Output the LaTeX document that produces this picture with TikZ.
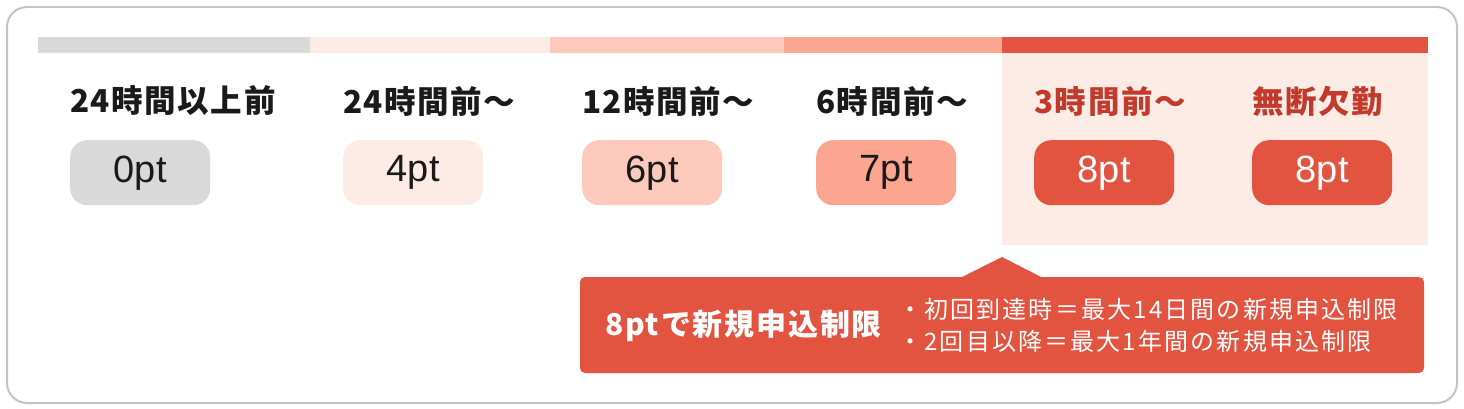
\documentclass[tikz,border=0pt]{standalone}
\usepackage{fontspec}
\setmainfont{Noto Sans CJK JP}
\newfontfamily\headfont{Noto Sans CJK JP}[LetterSpace=5]
\newfontfamily\calloutfont{Noto Sans CJK JP}[LetterSpace=6]
\newfontfamily\bulletfont{Noto Sans CJK JP}[LetterSpace=9]
\newfontfamily\pillfont{Liberation Sans}
\definecolor{cgray}{HTML}{D9D9D9}
\definecolor{cpale}{HTML}{FDECE6}
\definecolor{clight}{HTML}{FDC9BC}
\definecolor{cmid}{HTML}{FCA590}
\definecolor{cred}{HTML}{E35440}
\definecolor{cdark}{HTML}{C13A2B}
\definecolor{ctext}{HTML}{1A1A1A}
\definecolor{cframe}{HTML}{C4C4C4}
\tikzset{
  head/.style={anchor=west, inner sep=0pt, font=\headfont\bfseries\fontsize{31.5}{34}\selectfont, text=ctext},
  pill/.style={anchor=north west, minimum width=140pt, minimum height=65pt, rounded corners=17pt, inner sep=0pt, font=\pillfont\fontsize{38}{42}\selectfont, text=ctext},
}
\begin{document}
\begin{tikzpicture}[x=1pt,y=-1pt]
\useasboundingbox (0,0) rectangle (1464,409);
% frame
\draw[cframe, line width=2pt, rounded corners=20pt] (7,7) rectangle (1457,403);
% highlighted background
\fill[cpale] (1002,53) rectangle (1428,245);
% top bar
\fill[cgray]  (38,37) rectangle (310,53);
\fill[cpale]  (310,37) rectangle (550,53);
\fill[clight] (550,37) rectangle (784,53);
\fill[cmid]   (784,37) rectangle (1002,53);
\fill[cred]   (1002,37) rectangle (1428,53);
% headers
\node[head] (h1) at (70,101) {24時間以上前};
\node[head] (h2) at (343,101) {24時間前〜};
\node[head] (h3) at (582,101) {12時間前〜};
\node[head] (h4) at (816,101) {6時間前〜};
\node[head, text=cdark] (h5) at (1034,101) {3時間前〜};
\node[head, text=cdark] (h6) at (1252,101) {無断欠勤};
% pills
\node[pill, fill=cgray]  (p1) at (70,140) {0pt};
\node[pill, fill=cpale]  (p2) at (343,140) {4pt};
\node[pill, fill=clight] (p3) at (582,140) {6pt};
\node[pill, fill=cmid]   (p4) at (816,140) {7pt};
\node[pill, fill=cred, text=white] (p5) at (1034,140) {8pt};
\node[pill, fill=cred, text=white] (p6) at (1252,140) {8pt};
% callout
\fill[cred, rounded corners=5pt] (580,277) rectangle (1424,373);
\fill[cred] (960,278) -- (1002,257) -- (1043,278) -- cycle;
\node[anchor=west, inner sep=0pt, text=white, font=\calloutfont\bfseries\fontsize{30}{34}\selectfont] (ct) at (605,326) {8ptで新規申込制限};
\node[anchor=west, inner sep=0pt, text=white, font=\bulletfont\fontsize{24}{27}\selectfont] (b1) at (898,309) {・初回到達時＝最大14日間の新規申込制限};
\node[anchor=west, inner sep=0pt, text=white, font=\bulletfont\fontsize{24}{27}\selectfont] (b2) at (898,341) {・2回目以降＝最大1年間の新規申込制限};
\end{tikzpicture}
\end{document}
